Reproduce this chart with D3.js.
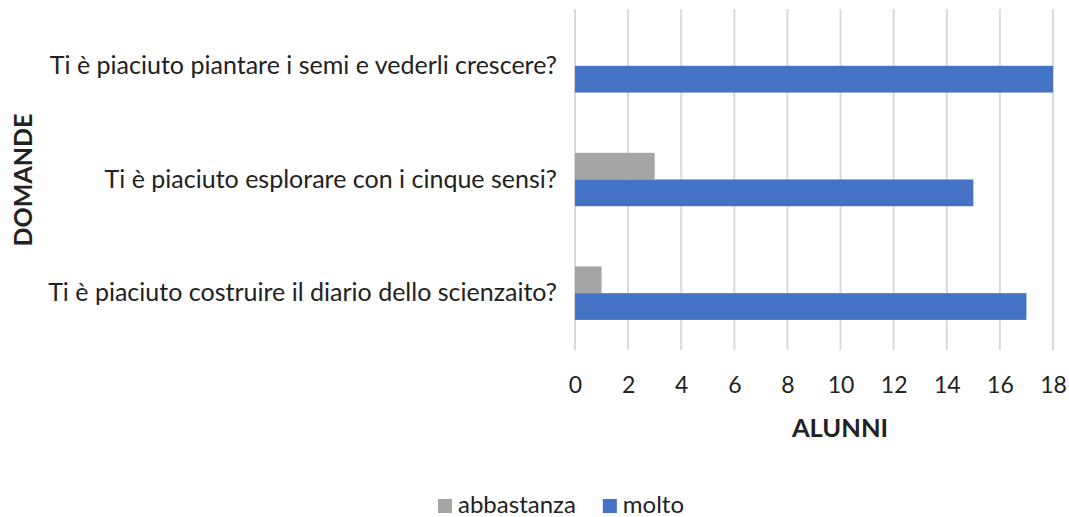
<!DOCTYPE html>
<html><head><meta charset="utf-8">
<script src="https://cdn.jsdelivr.net/npm/d3@7"></script>
<style>
html,body{margin:0;padding:0;background:#fff;}
text{font-family:Lato,"Open Sans",sans-serif;fill:#222;}
</style></head>
<body><svg id="c" width="1069" height="517"></svg>
<script>
const categories = [
  "Ti è piaciuto piantare i semi e vederli crescere?",
  "Ti è piaciuto esplorare con i cinque sensi?",
  "Ti è piaciuto costruire il diario dello scienzaito?"
];
const seriesNames = ["abbastanza", "molto"];
const abbastanza = [0, 3, 1];
const molto = [18, 15, 17];
const xTicks = [0, 2, 4, 6, 8, 10, 12, 14, 16, 18];
const xTitle = "ALUNNI";
const yTitle = "DOMANDE";
const colors = {abbastanza: "#a5a5a5", molto: "#4472c4"};

const svg = d3.select("#c");
const x = d3.scaleLinear().domain([0, 18]).range([575, 1053]);
const y = d3.scaleBand().domain(categories).range([9, 350]).paddingInner(0.53).paddingOuter(0.265);
const sub = d3.scaleBand().domain(seriesNames).range([0, y.bandwidth()]);

// gridlines
svg.append("g").selectAll("line").data(xTicks).join("line")
  .attr("x1", d => x(d)).attr("x2", d => x(d))
  .attr("y1", 9).attr("y2", 350)
  .attr("stroke", "#d9d9d9").attr("stroke-width", 2);

const vals = {abbastanza, molto};
const g = svg.append("g");
categories.forEach((c, i) => {
  seriesNames.forEach(s => {
    const v = vals[s][i];
    if (v <= 0) return;
    g.append("rect")
      .attr("x", x(0)).attr("y", y(c) + sub(s))
      .attr("width", x(v) - x(0)).attr("height", sub.bandwidth())
      .attr("fill", colors[s]);
  });
});

// x axis labels
const xa = svg.append("g").attr("transform", "translate(0,350)")
  .call(d3.axisBottom(x).tickValues(xTicks).tickSize(0).tickPadding(0));
xa.select(".domain").remove();
xa.selectAll("text").attr("dy", null).attr("y", 43)
  .style("font-family", "Lato").style("font-size", "23px").attr("fill", "#333");

// y axis labels
const ya = svg.append("g").attr("transform", "translate(575,0)")
  .call(d3.axisLeft(y).tickSize(0).tickPadding(18));
ya.select(".domain").remove();
ya.selectAll("text").style("font-family", "Lato").style("font-size", "18px").attr("fill", "#222");
let maxW = 0;
ya.selectAll("text").each(function(){ maxW = Math.max(maxW, this.getComputedTextLength()); });
const fs = 18 * 509 / maxW;
ya.selectAll("text").style("font-size", fs + "px");

svg.append("text").attr("x", 840).attr("y", 437).attr("text-anchor", "middle")
  .style("font-size", "25.5px").style("font-weight", "bold").text(xTitle);
svg.append("text").attr("transform", "translate(32,180) rotate(-90)").attr("text-anchor", "middle")
  .style("font-size", "25px").style("font-weight", "bold").text(yTitle);

// legend
const lg = svg.append("g").attr("transform", "translate(438,513)");
let lx = 0;
seriesNames.forEach(s => {
  const it = lg.append("g").attr("transform", `translate(${lx},0)`);
  it.append("rect").attr("x", 0).attr("y", -14).attr("width", 14).attr("height", 14).attr("fill", colors[s]);
  const t = it.append("text").attr("x", 20).attr("y", 0).style("font-size", "24px").attr("fill", "#333").text(s);
  lx += 20 + t.node().getComputedTextLength() + 27;
});
</script></body></html>
